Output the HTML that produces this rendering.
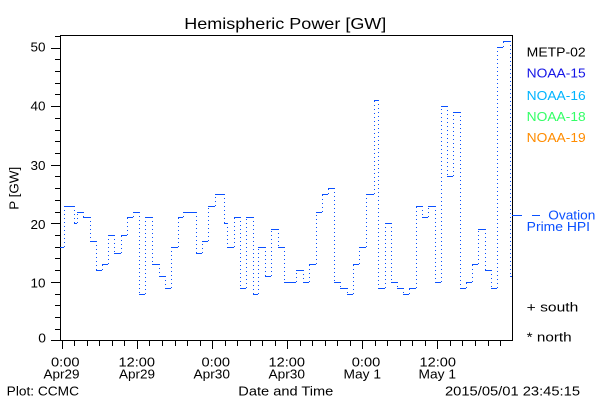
<!DOCTYPE html>
<html><head><meta charset="utf-8"><style>
html,body{margin:0;padding:0;background:#fff;}
svg{display:block;font-family:"Liberation Sans",sans-serif;}
</style></head><body>
<svg width="600" height="400" viewBox="0 0 600 400" xmlns="http://www.w3.org/2000/svg">
<rect width="600" height="400" fill="#fff"/>
<text x="184.3" y="29" font-size="16" textLength="202" lengthAdjust="spacingAndGlyphs" fill="#000">Hemispheric Power [GW]</text>

<!-- frame -->
<path d="M60.5 35.5H512.5V340.5H60.5Z" fill="none" stroke="#000" stroke-width="1" shape-rendering="crispEdges"/>

<!-- y ticks -->
<path shape-rendering="crispEdges" stroke="#000" stroke-width="1" fill="none" d="
M51 340.5H60 M55 329.5H60 M55 317.5H60 M55 305.5H60 M55 294.5H60
M51 282.5H60 M55 270.5H60 M55 258.5H60 M55 247.5H60 M55 235.5H60
M51 223.5H60 M55 212.5H60 M55 200.5H60 M55 188.5H60 M55 176.5H60
M51 165.5H60 M55 153.5H60 M55 141.5H60 M55 130.5H60 M55 118.5H60
M51 106.5H60 M55 94.5H60 M55 83.5H60 M55 71.5H60 M55 59.5H60
M51 48.5H60 M55 36.5H60"/>

<!-- x ticks -->
<path shape-rendering="crispEdges" stroke="#000" stroke-width="1" fill="none" d="
M62.5 341V349 M74.5 341V346 M87.5 341V346 M99.5 341V346 M112.5 341V346 M124.5 341V346
M137.5 341V349 M149.5 341V346 M162.5 341V346 M175.5 341V346 M187.5 341V346 M200.5 341V346
M212.5 341V349 M225.5 341V346 M237.5 341V346 M250.5 341V346 M262.5 341V346 M275.5 341V346
M287.5 341V349 M300.5 341V346 M312.5 341V346 M325.5 341V346 M337.5 341V346 M350.5 341V346
M362.5 341V349 M375.5 341V346 M387.5 341V346 M400.5 341V346 M412.5 341V346 M425.5 341V346
M437.5 341V349 M450.5 341V346 M462.5 341V346 M475.5 341V346 M488.5 341V346 M500.5 341V346"/>

<!-- y labels -->
<g font-size="13" fill="#000" text-anchor="end">
<text x="45.5" y="51.7" textLength="15" lengthAdjust="spacingAndGlyphs">50</text>
<text x="45.5" y="110.7" textLength="15" lengthAdjust="spacingAndGlyphs">40</text>
<text x="45.5" y="170" textLength="15" lengthAdjust="spacingAndGlyphs">30</text>
<text x="45.5" y="229" textLength="15" lengthAdjust="spacingAndGlyphs">20</text>
<text x="45.5" y="287.3" textLength="15" lengthAdjust="spacingAndGlyphs">10</text>
<text x="46" y="342.7" textLength="7.7" lengthAdjust="spacingAndGlyphs">0</text>
</g>
<text transform="translate(18.5,188.3) rotate(-90)" font-size="13" text-anchor="middle" textLength="43" lengthAdjust="spacingAndGlyphs" fill="#000">P [GW]</text>

<!-- x labels -->
<g font-size="13" fill="#000" text-anchor="end">
<text x="79.5" y="366.7" textLength="28.5" lengthAdjust="spacingAndGlyphs">0:00</text>
<text x="79.5" y="378.3" textLength="36" lengthAdjust="spacingAndGlyphs">Apr29</text>
<text x="155" y="366.7" textLength="36.5" lengthAdjust="spacingAndGlyphs">12:00</text>
<text x="155" y="378.3" textLength="36" lengthAdjust="spacingAndGlyphs">Apr29</text>
<text x="230" y="366.7" textLength="28.5" lengthAdjust="spacingAndGlyphs">0:00</text>
<text x="230" y="378.3" textLength="36.5" lengthAdjust="spacingAndGlyphs">Apr30</text>
<text x="305" y="366.7" textLength="36.5" lengthAdjust="spacingAndGlyphs">12:00</text>
<text x="305" y="378.3" textLength="36.5" lengthAdjust="spacingAndGlyphs">Apr30</text>
<text x="380.3" y="366.7" textLength="28.5" lengthAdjust="spacingAndGlyphs">0:00</text>
<text x="381" y="378.3" textLength="37.5" lengthAdjust="spacingAndGlyphs">May 1</text>
<text x="456" y="366.7" textLength="36.5" lengthAdjust="spacingAndGlyphs">12:00</text>
<text x="456" y="378.3" textLength="37.5" lengthAdjust="spacingAndGlyphs">May 1</text>
</g>

<!-- bottom texts -->
<g font-size="13" fill="#000">
<text x="6.7" y="395.7" textLength="72.3" lengthAdjust="spacingAndGlyphs">Plot: CCMC</text>
<text x="238.3" y="395.7" textLength="95" lengthAdjust="spacingAndGlyphs">Date and Time</text>
<text x="445" y="395.7" textLength="135" lengthAdjust="spacingAndGlyphs">2015/05/01 23:45:15</text>
</g>

<!-- legend -->
<g font-size="12.5">
<text x="526.7" y="56.7" fill="#000" textLength="59" lengthAdjust="spacingAndGlyphs">METP-02</text>
<text x="526.7" y="77.7" fill="#1414e6" textLength="59" lengthAdjust="spacingAndGlyphs">NOAA-15</text>
<text x="526.7" y="100" fill="#00b4ff" textLength="59" lengthAdjust="spacingAndGlyphs">NOAA-16</text>
<text x="526.7" y="121" fill="#33ff66" textLength="59" lengthAdjust="spacingAndGlyphs">NOAA-18</text>
<text x="526.7" y="142" fill="#ff8c00" textLength="59" lengthAdjust="spacingAndGlyphs">NOAA-19</text>
<text x="548.3" y="219.5" fill="#0a50ff" textLength="47" lengthAdjust="spacingAndGlyphs">Ovation</text>
<text x="526.7" y="231" fill="#0a50ff" textLength="63.3" lengthAdjust="spacingAndGlyphs">Prime HPI</text>
<text x="526.7" y="311.7" fill="#000" textLength="51.6" lengthAdjust="spacingAndGlyphs">+ south</text>
<text x="526.7" y="341.7" fill="#000" textLength="45" lengthAdjust="spacingAndGlyphs">* north</text>
</g>
<path d="M512 215.5H522 M532 215.5H540" stroke="#0a50ff" stroke-width="1" shape-rendering="crispEdges"/>

<!-- data: horizontal solid segments -->
<path fill="none" stroke="#0a50ff" stroke-width="1" shape-rendering="crispEdges" d="
M60 247.5H64 M64 206.5H74 M74 223.5H77 M77 212.5H83 M83 217.5H90 M90 241.5H96 M96 270.5H102 M102 264.5H108 M108 235.5H114 M114 253.5H121 M121 235.5H127 M127 217.5H133 M133 212.5H139 M139 294.5H145 M145 217.5H152 M152 264.5H159 M159 276.5H165 M165 288.5H171 M171 247.5H178 M178 217.5H183 M183 212.5H196 M196 253.5H202 M202 241.5H208 M208 206.5H215 M215 194.5H224 M224 223.5H227 M227 247.5H234 M234 217.5H240 M240 288.5H246 M246 217.5H253 M253 294.5H258 M258 247.5H265 M265 276.5H271 M271 229.5H278 M278 247.5H284 M284 282.5H296 M296 270.5H303 M303 282.5H309 M309 264.5H316 M316 212.5H322 M322 194.5H328 M328 188.5H334 M334 282.5H340 M340 288.5H347 M347 294.5H353 M353 264.5H359 M359 247.5H366 M366 194.5H374 M374 100.5H378 M378 288.5H385 M385 223.5H391 M391 282.5H397 M397 288.5H403 M403 294.5H409 M409 288.5H416 M416 206.5H422 M422 217.5H428 M428 206.5H435 M435 282.5H441 M441 106.5H447 M447 176.5H453 M453 112.5H460 M460 288.5H466 M466 282.5H472 M472 264.5H478 M478 229.5H485 M485 270.5H491 M491 288.5H497 M497 47.5H503 M503 41.5H510 M510 276.5H512"/>

<!-- data: vertical dotted connectors -->
<path fill="none" stroke="#0a50ff" stroke-width="1" stroke-dasharray="1 3" shape-rendering="crispEdges" d="
M64.5 247V206 M74.5 206V223 M77.5 223V212 M83.5 212V217 M90.5 217V241 M96.5 241V270 M102.5 270V264 M108.5 264V235 M114.5 235V253 M121.5 253V235 M127.5 235V217 M133.5 217V212 M139.5 212V294 M145.5 294V217 M152.5 217V264 M159.5 264V276 M165.5 276V288 M171.5 288V247 M178.5 247V217 M183.5 217V212 M196.5 212V253 M202.5 253V241 M208.5 241V206 M215.5 206V194 M224.5 194V223 M227.5 223V247 M234.5 247V217 M240.5 217V288 M246.5 288V217 M253.5 217V294 M258.5 294V247 M265.5 247V276 M271.5 276V229 M278.5 229V247 M284.5 247V282 M296.5 282V270 M303.5 270V282 M309.5 282V264 M316.5 264V212 M322.5 212V194 M328.5 194V188 M334.5 188V282 M340.5 282V288 M347.5 288V294 M353.5 294V264 M359.5 264V247 M366.5 247V194 M374.5 194V100 M378.5 100V288 M385.5 288V223 M391.5 223V282 M397.5 282V288 M403.5 288V294 M409.5 294V288 M416.5 288V206 M422.5 206V217 M428.5 217V206 M435.5 206V282 M441.5 282V106 M447.5 106V176 M453.5 176V112 M460.5 112V288 M466.5 288V282 M472.5 282V264 M478.5 264V229 M485.5 229V270 M491.5 270V288 M497.5 288V47 M503.5 47V41 M510.5 41V276"/>
</svg>
</body></html>
